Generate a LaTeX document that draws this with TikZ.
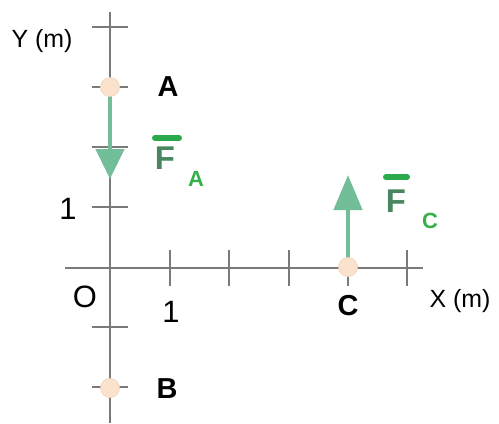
\documentclass[tikz,border=0pt]{standalone}
\usepackage{fontspec}
\setmainfont{Liberation Sans}
\usetikzlibrary{arrows.meta}
\definecolor{axisgray}{RGB}{122,122,122}
\definecolor{ptfill}{RGB}{251,226,205}
\definecolor{ptedge}{RGB}{240,208,186}
\definecolor{forcegreen}{RGB}{114,190,153}
\definecolor{fdark}{RGB}{72,134,96}
\definecolor{barbright}{RGB}{42,170,76}
\definecolor{subgreen}{RGB}{52,176,72}
\tikzset{
  axis/.style={axisgray,line width=2.6bp},
  force/.style={forcegreen,line width=4.5bp},
  pt/.style={circle,fill=ptfill,draw=ptedge,line width=0.6bp,minimum size=19bp,inner sep=0pt},
  lbl/.style={font=\fontsize{25}{29}\selectfont,anchor=base},
  num/.style={font=\fontsize{31}{35}\selectfont,anchor=base},
  ptname/.style={font=\fontsize{29}{33}\selectfont\bfseries,anchor=base},
  fname/.style={font=\fontsize{33}{37}\selectfont\bfseries,text=fdark,anchor=base},
  fsub/.style={font=\fontsize{22}{25}\selectfont\bfseries,text=subgreen,anchor=base},
  fbar/.style={barbright,line width=6bp,line cap=round}
}
\begin{document}
\begin{tikzpicture}[x=1bp,y=-1bp]
  \useasboundingbox (0,0) rectangle (499,423);
  % axes and ticks
  \draw[axis] (65,268) -- (423,268);
  \draw[axis] (110,12) -- (110,423);
  \foreach \x in {170,229,289,348,407}
    \draw[axis] (\x,250) -- (\x,286);
  \foreach \y in {27,87,147,207,327,387}
    \draw[axis] (92,\y) -- (128,\y);
  \node[lbl] (ylab) at (42,47) {Y (m)};
  \node[lbl] (xlab) at (460,307) {X (m)};
  \node[num] (orig) at (85,307) {O};
  \node[num] (yone) at (68,219) {1};
  \node[num] (xone) at (171,322) {1};
  % points
  \coordinate (A) at (110,87);
  \coordinate (B) at (110,388);
  \coordinate (C) at (348,267);
  \coordinate (FAend) at (110,179);
  \coordinate (FCend) at (348,175);
  % forces
  \draw[force,-{Triangle[length=30bp,width=28bp]}] (A) -- (FAend);
  \draw[force,-{Triangle[length=35bp,width=28bp]}] (C) -- (FCend);
  \node[pt] (pA) at (A) {};
  \node[pt] (pB) at (B) {};
  \node[pt] (pC) at (C) {};
  \node[ptname] (nA) at (168,96) {A};
  \node[ptname] (nB) at (167,398) {B};
  \node[ptname] (nC) at (348,315) {C};
  % force labels
  \node[fname] (FA) at (165,169) {F};
  \draw[fbar] (155,138) -- (179,138);
  \node[fsub] (FAsub) at (196,186) {A};
  \node[fname] (FC) at (396,212) {F};
  \draw[fbar] (386,177) -- (407,177);
  \node[fsub] (FCsub) at (430,228) {C};
\end{tikzpicture}
\end{document}
